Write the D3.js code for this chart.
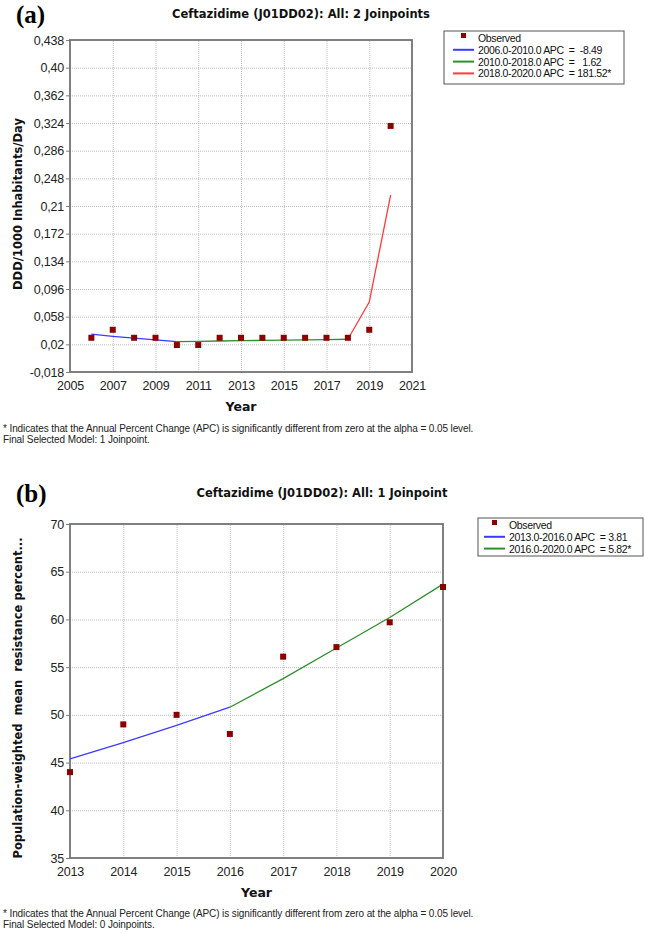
<!DOCTYPE html>
<html>
<head>
<meta charset="utf-8">
<script src="https://cdn.jsdelivr.net/npm/d3@7"></script>
<style>
  body { margin: 0; background: #fff; }
  svg { display: block; font-family: "Liberation Sans", Arial, sans-serif; }
  .grid line { stroke: #bdbdbd; stroke-dasharray: 1,1; }
  .grid .domain { display: none; }
  .axis .domain { display: none; }
  .axis line { stroke: #808080; }
  .axis text { font-size: 12.5px; fill: #222; letter-spacing: -0.2px; }
  .bold { font-family: "DejaVu Sans", Verdana, sans-serif; font-weight: bold; fill: #111; }
  .note { font-size: 10px; fill: #222; letter-spacing: -0.1px; }
  .leg { font-size: 10.5px; fill: #111; letter-spacing: -0.35px; }
</style>
</head>
<body>
<svg width="645" height="933"></svg>
<script>
// panel (a) data
const yearsA = [2006, 2007, 2008, 2009, 2010, 2011, 2012, 2013, 2014, 2015, 2016, 2017, 2018, 2019, 2020];
const observedA = [0.029, 0.040, 0.029, 0.029, 0.019, 0.019, 0.029, 0.029, 0.029, 0.029, 0.029, 0.029, 0.029, 0.040, 0.320];
const fitYearsA1 = [2006, 2007, 2008, 2009, 2010];
const fitA1 = [0.034, 0.031, 0.0285, 0.026, 0.0238];
const fitYearsA2 = [2010, 2011, 2012, 2013, 2014, 2015, 2016, 2017, 2018];
const fitA2 = [0.0238, 0.0242, 0.0246, 0.025, 0.0254, 0.0258, 0.0262, 0.0266, 0.027];
const fitYearsA3 = [2018, 2019, 2020];
const fitA3 = [0.027, 0.078, 0.225];
const yTicksA = [0.438, 0.40, 0.362, 0.324, 0.286, 0.248, 0.21, 0.172, 0.134, 0.096, 0.058, 0.02, -0.018];
const yLabelsA = ["0,438", "0,40", "0,362", "0,324", "0,286", "0,248", "0,21", "0,172", "0,134", "0,096", "0,058", "0,02", "-0,018"];
const xTicksA = [2005, 2007, 2009, 2011, 2013, 2015, 2017, 2019, 2021];
const legendA = ["Observed", "2006.0-2010.0 APC  =  -8.49", "2010.0-2018.0 APC  =   1.62", "2018.0-2020.0 APC  = 181.52*"];

// panel (b) data
const yearsB = [2013, 2014, 2015, 2016, 2017, 2018, 2019, 2020];
const observedB = [44.0, 49.0, 50.0, 48.0, 56.1, 57.1, 59.7, 63.4];
const fitYearsB1 = [2013, 2014, 2015, 2016];
const fitB1 = [45.4, 47.1, 48.9, 50.8];
const fitYearsB2 = [2016, 2017, 2018, 2019, 2020];
const fitB2 = [50.8, 53.8, 57.0, 60.2, 63.7];
const yTicksB = [70, 65, 60, 55, 50, 45, 40, 35];
const xTicksB = [2013, 2014, 2015, 2016, 2017, 2018, 2019, 2020];
const legendB = ["Observed", "2013.0-2016.0 APC  = 3.81", "2016.0-2020.0 APC  = 5.82*"];

const colBlue = "#3b3bff", colGreen = "#2f8f2f", colRed = "#ff3b3b", colMark = "#8b0000";

const svg = d3.select("svg");

const drawPanel = (p) => {
  const x = d3.scaleLinear().domain(p.xDomain).range([p.left, p.right]);
  const y = d3.scaleLinear().domain(p.yDomain).range([p.bottom, p.top]);
  const g = svg.append("g");

  // gridlines
  g.append("g").attr("class", "grid")
    .attr("transform", `translate(0,${p.bottom})`)
    .call(d3.axisBottom(x).tickValues(p.xTicks.slice(1, -1)).tickSize(-(p.bottom - p.top)).tickFormat(""));
  g.append("g").attr("class", "grid")
    .attr("transform", `translate(${p.left},0)`)
    .call(d3.axisLeft(y).tickValues(p.yTicks.slice(1, -1)).tickSize(-(p.right - p.left)).tickFormat(""));

  // axes
  g.append("g").attr("class", "axis")
    .attr("transform", `translate(${p.left},0)`)
    .call(d3.axisLeft(y).tickValues(p.yTicks).tickSize(4).tickPadding(2)
      .tickFormat((d, i) => p.yLabels[i]));
  g.append("g").attr("class", "axis")
    .attr("transform", `translate(0,${p.bottom})`)
    .call(d3.axisBottom(x).tickValues(p.xTicks).tickSize(0).tickPadding(9).tickFormat(d3.format("d")));

  // frame
  g.append("rect")
    .attr("x", p.left).attr("y", p.top)
    .attr("width", p.right - p.left).attr("height", p.bottom - p.top)
    .attr("fill", "none").attr("stroke", "#737373").attr("stroke-width", 1.8);

  // fitted segments
  const line = d3.line().x(d => x(d[0])).y(d => y(d[1]));
  p.fits.forEach(f => {
    g.append("path")
      .datum(d3.zip(f.years, f.values))
      .attr("fill", "none").attr("stroke", f.color).attr("stroke-width", 1.3)
      .attr("d", line);
  });

  // observed
  g.selectAll("rect.obs")
    .data(d3.zip(p.years, p.observed))
    .enter().append("rect")
      .attr("class", "obs")
      .attr("x", d => x(d[0]) - 3).attr("y", d => y(d[1]) - 3)
      .attr("width", 6).attr("height", 6)
      .attr("fill", colMark);

  // titles
  svg.append("text").attr("class", "bold")
    .attr("x", p.titleX).attr("y", p.titleY).attr("text-anchor", "middle")
    .attr("font-size", 11.5).text(p.title);
  svg.append("text")
    .attr("x", 16).attr("y", p.titleY + 5)
    .attr("font-family", "Liberation Serif, serif").attr("font-weight", "bold")
    .attr("font-size", 25).attr("fill", "#000").text(p.letter);
  svg.append("text").attr("class", "bold")
    .attr("transform", `translate(${p.yLabelX},${p.yLabelY}) rotate(-90)`)
    .attr("text-anchor", "middle").attr("font-size", 11.5)
    .style("white-space", "pre").text(p.yTitle);
  svg.append("text").attr("class", "bold")
    .attr("x", (p.left + p.right) / 2).attr("y", p.bottom + 39)
    .attr("text-anchor", "middle").attr("font-size", 12.5).text("Year");

  // footnotes
  p.notes.forEach((t, i) => {
    svg.append("text").attr("class", "note")
      .attr("x", 3).attr("y", p.noteY + i * 11).text(t);
  });

  // legend
  const lg = svg.append("g");
  lg.append("rect")
    .attr("x", p.legX).attr("y", p.legY).attr("width", p.legW).attr("height", p.legH)
    .attr("fill", "#fff").attr("stroke", "#555").attr("stroke-width", 1);
  p.legend.forEach((t, i) => {
    const cy = p.legY + 9 + i * 11.8;
    if (i === 0) {
      lg.append("rect").attr("x", p.legX + p.swatchX + 8).attr("y", cy - 7)
        .attr("width", 5).attr("height", 5).attr("fill", colMark);
    } else {
      lg.append("line")
        .attr("x1", p.legX + p.swatchX).attr("x2", p.legX + p.swatchX + 21)
        .attr("y1", cy - 2).attr("y2", cy - 2)
        .attr("stroke", p.fits[i - 1].color).attr("stroke-width", 2);
    }
    lg.append("text").attr("class", "leg")
      .attr("x", p.legX + p.swatchX + 25).attr("y", cy + 2)
      .style("white-space", "pre").text(t);
  });
};

const notes = n => ["* Indicates that the Annual Percent Change (APC) is significantly different from zero at the alpha = 0.05 level.",
  `Final Selected Model: ${n}.`];

drawPanel({
  left: 70, right: 412, top: 40, bottom: 372,
  xDomain: [2005, 2021], yDomain: [-0.018, 0.438],
  xTicks: xTicksA, yTicks: yTicksA, yLabels: yLabelsA,
  years: yearsA, observed: observedA,
  fits: [
    { years: fitYearsA1, values: fitA1, color: colBlue },
    { years: fitYearsA2, values: fitA2, color: colGreen },
    { years: fitYearsA3, values: fitA3, color: colRed }
  ],
  title: "Ceftazidime (J01DD02): All: 2 Joinpoints", titleX: 301, titleY: 18, letter: "(a)",
  yTitle: "DDD/1000 Inhabitants/Day", yLabelX: 22, yLabelY: 204,
  notes: notes("1 Joinpoint"), noteY: 432,
  legend: legendA, legX: 444, legY: 31, legW: 180, legH: 53, swatchX: 9
});

drawPanel({
  left: 70, right: 443, top: 524, bottom: 858,
  xDomain: [2013, 2020], yDomain: [35, 70],
  xTicks: xTicksB, yTicks: yTicksB, yLabels: yTicksB.map(String),
  years: yearsB, observed: observedB,
  fits: [
    { years: fitYearsB1, values: fitB1, color: colBlue },
    { years: fitYearsB2, values: fitB2, color: colGreen }
  ],
  title: "Ceftazidime (J01DD02): All: 1 Joinpoint", titleX: 322, titleY: 497, letter: "(b)",
  yTitle: "Population-weighted  mean  resistance percent...", yLabelX: 22, yLabelY: 698,
  notes: notes("0 Joinpoints"), noteY: 917,
  legend: legendB, legX: 478, legY: 518, legW: 165, legH: 38, swatchX: 6
});
</script>
</body>
</html>
